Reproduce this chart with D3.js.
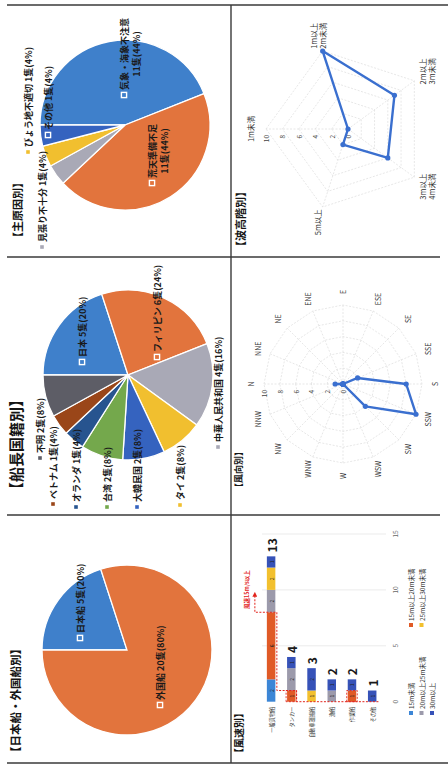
<!DOCTYPE html>
<html><head><meta charset="utf-8">
<script src="https://cdn.jsdelivr.net/npm/d3@7"></script>
<style>
html,body{margin:0;padding:0;background:#fff;}
svg{display:block;}
text{font-family:"Noto Sans CJK JP","Noto Sans",sans-serif;}
</style></head><body>
<svg id="chart" width="448" height="774"></svg>
<script>
// ---------- data ----------
const shipOriginLabels = ["日本船", "外国船"];
const shipOriginCounts = [5, 20];

const captainNationLabels = ["日本", "フィリピン", "中華人民共和国", "タイ", "大韓民国", "台湾", "オランダ", "ベトナム", "不明"];
const captainNationCounts = [5, 6, 4, 2, 2, 2, 1, 1, 2];

const causeLabels = ["気象・海象不注意", "荒天準備不足", "見張り不十分", "びょう地不適切", "その他"];
const causeCounts = [11, 11, 1, 1, 1];

const windShipTypes = ["一般貨物船", "タンカー", "自動車運搬船", "漁船", "作業船", "その他"];
const windSpeedClasses = ["15m未満", "15m以上20m未満", "20m以上25m未満", "25m以上30m未満", "30m以上"];
const windUnder15 = [2, 0, 0, 0, 0, 0];
const wind15to20  = [6, 1, 0, 0, 1, 0];
const wind20to25  = [2, 2, 0, 1, 0, 0];
const wind25to30  = [2, 0, 1, 0, 0, 0];
const wind30plus  = [1, 1, 2, 1, 1, 1];
const windSpeedTicks = [0, 5, 10, 15];

const windDirections = ["N","NNE","NE","ENE","E","ESE","SE","SSE","S","SSW","SW","WSW","W","WNW","NW","NNW"];
const windDirectionCounts = [1, 0, 0, 0, 0, 0, 0, 2, 8, 10, 4, 0, 0, 0, 0, 0];

const waveClasses = ["1m未満", "1m以上|2m未満", "2m以上|3m未満", "3m以上|4m未満", "5m以上"];
const waveCounts = [0, 10, 7, 6, 2];

const radarTicks = [0, 2, 4, 6, 8, 10];

// ---------- palette ----------
const sliceColors = ["#3f80cb", "#e2743d", "#a9a9b6", "#f1bf2f", "#3563bf", "#74a84c", "#27548f", "#9a4619", "#5d5d66"];
const speedColors = ["#3c86d6", "#e05a26", "#9c9aab", "#f2c02e", "#3652b8"];
const radarColor = "#3a6fcf";

// ---------- page (drawn landscape, turned onto the portrait sheet) ----------
const svg = d3.select("#chart");
const defs = svg.append("defs");
defs.append("marker").attr("id", "redArrow").attr("viewBox", "0 0 10 10")
  .attr("refX", 5).attr("refY", 5).attr("markerWidth", 5).attr("markerHeight", 5)
  .attr("orient", "auto")
  .append("path").attr("d", "M0,0L10,5L0,10z").attr("fill", "#e2241c");

const page = svg.append("g").attr("transform", "translate(0,774) rotate(-90)");

// frame rules
const rule = (x1, y1, x2, y2) => page.append("line")
  .attr("x1", x1).attr("y1", y1).attr("x2", x2).attr("y2", y2)
  .attr("stroke", "#3a3a3a").attr("stroke-width", 1.4);
rule(11, 7, 11, 448);
rule(769, 7, 769, 448);
rule(11, 231, 769, 231);
rule(259, 7, 259, 440);
rule(517, 7, 517, 440);

function title(txt, u, v, size) {
  page.append("text").attr("x", u).attr("y", v)
    .attr("dominant-baseline", "central")
    .attr("font-size", size).attr("font-weight", "bold").attr("fill", "#151515")
    .text(txt);
}

// ---------- pies ----------
function drawPie(cu, cv, r, names, counts, layout) {
  const total = d3.sum(counts);
  const arcs = d3.pie().sort(null).value(d => d)(counts);
  const arc = d3.arc().innerRadius(0).outerRadius(r);
  const g = page.append("g");
  g.append("g").attr("transform", `translate(${cu},${cv})`)
    .selectAll("path").data(arcs).join("path")
    .attr("d", arc)
    .attr("fill", (d, i) => sliceColors[i])
    .attr("stroke", "#fff").attr("stroke-width", 1.3);

  names.forEach((name, i) => {
    const [du, dv, kind] = layout[i];
    const mu = cu + du, mv = cv + dv;
    const pct = Math.round(counts[i] / total * 100);
    const amount = `${counts[i]}隻(${pct}%)`;
    if (kind === "out") {
      g.append("rect").attr("x", mu - 1.8).attr("y", mv - 1.8).attr("width", 3.6).attr("height", 3.6)
        .attr("fill", sliceColors[i]);
    } else {
      g.append("rect").attr("x", mu - 2.6).attr("y", mv - 2.6).attr("width", 5.2).attr("height", 5.2)
        .attr("fill", sliceColors[i]).attr("stroke", "#fff").attr("stroke-width", 1.4);
    }
    const t = g.append("text").attr("x", mu + 5).attr("y", mv)
      .attr("dominant-baseline", "central")
      .attr("font-size", 9).attr("font-weight", "bold").attr("fill", "#1a1a1a")
      .text(kind === "in2" ? name : `${name} ${amount}`);
    if (kind === "in2") {
      const w = t.node().getComputedTextLength();
      g.append("text").attr("x", mu + 5 + w / 2).attr("y", mv + 12)
        .attr("dominant-baseline", "central").attr("text-anchor", "middle")
        .attr("font-size", 9).attr("font-weight", "bold").attr("fill", "#1a1a1a")
        .text(amount);
    }
  });
}

title("【日本船・外国船別】", 16, 15, 11.5);
drawPie(124, 127, 85, shipOriginLabels, shipOriginCounts,
  [[12, -47, "in"], [-55, 33, "in"]]);

title("【船長国籍別】", 277, 15, 15);
drawPie(399, 128, 85, captainNationLabels, captainNationCounts,
  [[13, -46, "in"], [18, 29, "in"], [-72, 90, "out"], [-130, 52, "out"], [-132, 9, "out"],
   [-132, -21, "out"], [-132, -52, "out"], [-129, -75, "out"], [-83, -88, "out"]]);

title("【主原因別】", 531, 17, 11);
drawPie(649, 125, 85, causeLabels, causeCounts,
  [[30, -1, "in2"], [-58, 27, "in2"], [-122, -83, "out"], [-27, -97, "out"], [-10, -77, "in"]]);

// ---------- wind speed: stacked horizontal bars ----------
title("【風速別】", 16, 238, 10);
const catBand = d3.scaleBand().domain(windShipTypes).range([261, 382.3]).paddingInner(0.58).paddingOuter(0.29);
const valX = d3.scaleLinear().domain([0, 15]).range([72.3, 240]);
const speedSeries = [windUnder15, wind15to20, wind20to25, wind25to30, wind30plus];
const rows = windShipTypes.map((t, i) => {
  const o = { type: t };
  windSpeedClasses.forEach((c, k) => { o[c] = speedSeries[k][i]; });
  return o;
});
const stacked = d3.stack().keys(windSpeedClasses)(rows);
const bw = catBand.bandwidth();
const bars = page.append("g");

bars.selectAll("line.grid").data(windSpeedTicks.filter(t => t > 0)).join("line")
  .attr("x1", d => valX(d)).attr("x2", d => valX(d))
  .attr("y1", 262).attr("y2", 386)
  .attr("stroke", "#e6e6e6").attr("stroke-width", 0.8);

stacked.forEach((layer, k) => {
  layer.forEach(seg => {
    const n = seg[1] - seg[0];
    if (n <= 0) return;
    const y = catBand(seg.data.type);
    bars.append("rect")
      .attr("x", valX(seg[0])).attr("y", y)
      .attr("width", valX(seg[1]) - valX(seg[0])).attr("height", bw)
      .attr("fill", speedColors[k]);
    bars.append("text")
      .attr("x", (valX(seg[0]) + valX(seg[1])) / 2).attr("y", y + bw / 2)
      .attr("dominant-baseline", "central").attr("text-anchor", "middle")
      .attr("font-size", 5).attr("fill", "#222").text(n);
  });
});

rows.forEach((r, i) => {
  const total = d3.sum(windSpeedClasses, c => r[c]);
  bars.append("text")
    .attr("x", valX(total) + 4).attr("y", catBand(r.type) + bw / 2)
    .attr("dominant-baseline", "central")
    .attr("font-family", "DejaVu Sans").attr("font-size", 12).attr("font-weight", "bold")
    .attr("fill", "#1a1a1a").text(total);
  bars.append("text")
    .attr("x", valX(0) - 5).attr("y", catBand(r.type) + bw / 2)
    .attr("dominant-baseline", "central").attr("text-anchor", "end")
    .attr("font-size", 5.2).attr("fill", "#333").text(r.type);
});

bars.selectAll("text.tick").data(windSpeedTicks).join("text")
  .attr("x", d => valX(d)).attr("y", 395)
  .attr("dominant-baseline", "central").attr("text-anchor", "middle")
  .attr("font-size", 6.5).attr("fill", "#666").text(d => d);

// 15m/s-and-above callout
const c1 = windShipTypes[0], c2 = windShipTypes[1], c5 = windShipTypes[4], c6 = windShipTypes[5];
const red = "#e2241c";
[c2, c5].forEach(c => {
  bars.append("rect").attr("x", valX(0)).attr("y", catBand(c) - 1)
    .attr("width", valX(1) - valX(0)).attr("height", bw + 2)
    .attr("fill", "none").attr("stroke", red).attr("stroke-width", 0.9).attr("stroke-dasharray", "2,1.5");
});
const callout = [
  [valX(0), catBand(c6) + bw + 2],
  [valX(0), catBand(c2) + bw + 1],
  [valX(1), catBand(c2) + bw + 1],
  [valX(1), catBand(c1) + bw + 1.5],
  [valX(8), catBand(c1) + bw + 1.5],
  [valX(8), catBand(c1) - 12],
  [valX(9.6), catBand(c1) - 12]
];
bars.append("path").attr("d", d3.line()(callout))
  .attr("fill", "none").attr("stroke", red).attr("stroke-width", 1)
  .attr("stroke-dasharray", "2,1.5").attr("marker-end", "url(#redArrow)");
bars.append("text").attr("x", valX(8.3)).attr("y", catBand(c1) - 20)
  .attr("dominant-baseline", "central")
  .attr("font-size", 5.5).attr("font-weight", "bold").attr("fill", red).text("風速15m/s以上");

// legend
const legendSlots = [[61, 411], [149, 411], [61, 421.5], [149, 421.5], [61, 432]];
windSpeedClasses.forEach((c, k) => {
  const [u, v] = legendSlots[k];
  bars.append("rect").attr("x", u - 2).attr("y", v - 2).attr("width", 4).attr("height", 4).attr("fill", speedColors[k]);
  bars.append("text").attr("x", u + 4).attr("y", v).attr("dominant-baseline", "central")
    .attr("font-size", 6.5).attr("fill", "#333").text(c);
});

// ---------- radar charts ----------
function drawRadar(cu, cv, R, labels, values, labelR, labelSize, twoLine) {
  const n = labels.length;
  const rS = d3.scaleLinear().domain([0, 10]).range([0, R]);
  const ang = i => i * 2 * Math.PI / n;
  const g = page.append("g").attr("transform", `translate(${cu},${cv})`);
  const ring = d3.lineRadial().angle((d, i) => ang(i)).radius(d => rS(d)).curve(d3.curveLinearClosed);

  radarTicks.filter(t => t > 0).forEach(t => {
    g.append("path").attr("d", ring(d3.range(n).map(() => t)))
      .attr("fill", "none").attr("stroke", "#dcdcdc").attr("stroke-width", 0.7).attr("stroke-dasharray", "2,1.5");
  });
  d3.range(n).forEach(i => {
    g.append("line").attr("x1", 0).attr("y1", 0)
      .attr("x2", Math.sin(ang(i)) * R).attr("y2", -Math.cos(ang(i)) * R)
      .attr("stroke", "#dcdcdc").attr("stroke-width", 0.7).attr("stroke-dasharray", "2,1.5");
  });
  radarTicks.forEach(t => {
    g.append("text").attr("x", -6).attr("y", -rS(t))
      .attr("dominant-baseline", "central").attr("text-anchor", "end")
      .attr("font-size", 6.5).attr("fill", "#444").text(t);
  });

  g.append("path").attr("d", ring(values))
    .attr("fill", "none").attr("stroke", radarColor).attr("stroke-width", 2.4).attr("stroke-linejoin", "round");
  g.selectAll("circle").data(values).join("circle")
    .attr("cx", (d, i) => Math.sin(ang(i)) * rS(d))
    .attr("cy", (d, i) => -Math.cos(ang(i)) * rS(d))
    .attr("r", 2.6).attr("fill", radarColor);

  labels.forEach((lab, i) => {
    const x = Math.sin(ang(i)) * labelR, y = -Math.cos(ang(i)) * labelR;
    const parts = lab.split("|");
    const t = g.append("text").attr("text-anchor", "middle")
      .attr("font-size", labelSize).attr("fill", "#333");
    parts.forEach((p, k) => {
      t.append("tspan").attr("x", x)
        .attr("y", y + (k - (parts.length - 1) / 2) * (labelSize + 1.5))
        .attr("dominant-baseline", "central").text(p);
    });
  });
}

title("【風向別】", 282, 238, 9);
drawRadar(390, 343, 79, windDirections, windDirectionCounts, 92, 7);

title("【波高階別】", 522, 240, 11);
drawRadar(645, 348, 82, waveClasses, waveCounts, 98, 7.5);
</script>
</body></html>
